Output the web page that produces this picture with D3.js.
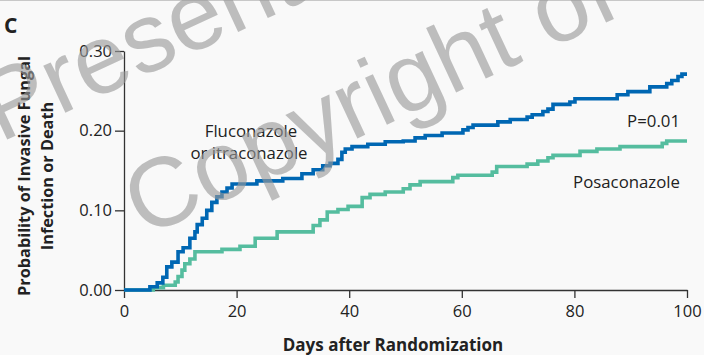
<!DOCTYPE html>
<html>
<head>
<meta charset="utf-8">
<script src="https://cdn.jsdelivr.net/npm/d3@7"></script>
<style>
  html, body { margin: 0; padding: 0; background: #f9f9f9; }
  svg { display: block; }
</style>
</head>
<body>
<svg id="chart" width="704" height="355"></svg>
<script>
// Kaplan-Meier style cumulative incidence, step points (day, probability)
const flucoDays = [0, 4.6, 5.9, 6.9, 7.6, 8.5, 9.6, 10.5, 11.7, 12.6, 13.0, 13.9, 14.7, 15.6, 16.5, 17.4, 18.3, 19.2,
  23.6, 28.2, 31.6, 33.6, 35.3, 36.6, 38.0, 38.7, 39.3, 40.5, 43.3, 46.4, 49.6, 51.7, 53.5, 56.5, 60.2, 61.1, 62.0,
  66.4, 68.6, 71.6, 72.5, 74.4, 75.3, 76.2, 79.2, 80.1, 87.6, 89.5, 93.4, 96.4, 97.3, 98.4, 99.1, 100];
const flucoProb = [0, 0.004, 0.009, 0.016, 0.029, 0.035, 0.048, 0.053, 0.065, 0.073, 0.082, 0.090, 0.100, 0.110, 0.117, 0.123, 0.128, 0.133,
  0.137, 0.140, 0.146, 0.151, 0.156, 0.159, 0.164, 0.173, 0.177, 0.180, 0.183, 0.186, 0.187, 0.191, 0.194, 0.197, 0.201, 0.204, 0.207,
  0.211, 0.214, 0.217, 0.220, 0.224, 0.227, 0.233, 0.236, 0.240, 0.245, 0.249, 0.255, 0.259, 0.263, 0.268, 0.271, 0.271];

const posaDays = [0, 5.2, 7.0, 9.1, 9.6, 10.3, 10.8, 11.7, 12.6, 17.4, 20.6, 23.3, 27.2, 33.6, 34.8, 36.1, 38.0, 39.8,
  42.3, 43.7, 46.4, 49.6, 50.8, 52.6, 58.4, 59.3, 65.4, 66.2, 71.6, 73.5, 75.3, 76.2, 81.0, 84.0, 88.1, 95.6, 96.4, 100];
const posaProb = [0, 0.003, 0.006, 0.010, 0.017, 0.025, 0.033, 0.039, 0.048, 0.051, 0.055, 0.065, 0.073, 0.081, 0.088, 0.098, 0.101, 0.105,
  0.116, 0.120, 0.123, 0.127, 0.132, 0.136, 0.141, 0.144, 0.148, 0.155, 0.158, 0.162, 0.166, 0.169, 0.174, 0.177, 0.180, 0.184, 0.187, 0.187];

const xTicks = [0, 20, 40, 60, 80, 100];
const yTicks = [0, 0.10, 0.20, 0.30];

const svg = d3.select("#chart");
const W = 704, H = 355;
const FONT = "'Open Sans', Lato, sans-serif";

svg.append("rect").attr("width", W).attr("height", H).attr("fill", "#f9f9f9");
svg.append("line").attr("x1", 0).attr("x2", W).attr("y1", 0.5).attr("y2", 0.5)
  .attr("stroke", "#c8c8c8").attr("stroke-width", 1);

const x = d3.scaleLinear().domain([0, 100]).range([124, 687]);
const y = d3.scaleLinear().domain([0, 0.30]).range([290, 51]);

// Axes
const xAxis = svg.append("g").attr("transform", `translate(0,${y(0)})`)
  .call(d3.axisBottom(x).tickValues(xTicks).tickFormat(d3.format("d")).tickSize(8).tickPadding(7).tickSizeOuter(0));
const yAxis = svg.append("g").attr("transform", `translate(${x(0)},0)`)
  .call(d3.axisLeft(y).tickValues(yTicks).tickFormat(d3.format(".2f")).tickSize(9).tickPadding(3).tickSizeOuter(0));

[xAxis, yAxis].forEach(g => {
  g.select(".domain").attr("stroke", "#333").attr("stroke-width", 1.3);
  g.selectAll(".tick line").attr("stroke", "#333").attr("stroke-width", 1.3);
  g.selectAll(".tick text").attr("fill", "#222").attr("font-family", FONT).attr("font-size", 16.5);
});

// Curves
const line = d3.line().curve(d3.curveStepAfter).x(d => x(d[0])).y(d => y(d[1]));
const fluco = flucoDays.map((d, i) => [d, flucoProb[i]]);
const posa = posaDays.map((d, i) => [d, posaProb[i]]);

svg.append("path").datum(posa).attr("d", line).attr("fill", "none")
  .attr("stroke", "#55bd9f").attr("stroke-width", 3.6);
svg.append("path").datum(fluco).attr("d", line).attr("fill", "none")
  .attr("stroke", "#0067b3").attr("stroke-width", 3.6);

// Labels
svg.append("text").attr("x", 4).attr("y", 33).text("C")
  .attr("font-family", FONT).attr("font-weight", "bold").attr("font-size", 21).attr("fill", "#222");

const yTitle = svg.append("text").attr("transform", "translate(0,176) rotate(-90)")
  .attr("text-anchor", "middle").attr("font-family", FONT).attr("font-weight", "bold")
  .attr("font-size", 16.3).attr("fill", "#222");
yTitle.append("tspan").attr("x", 0).attr("y", 30).text("Probability of Invasive Fungal");
yTitle.append("tspan").attr("x", 0).attr("y", 53).text("Infection or Death");

svg.append("text").attr("x", 393).attr("y", 351).attr("text-anchor", "middle")
  .attr("font-family", FONT).attr("font-weight", "bold").attr("font-size", 17).attr("fill", "#222")
  .text("Days after Randomization");

const lab = svg.append("text").attr("text-anchor", "middle").attr("font-family", FONT)
  .attr("font-size", 16.8).attr("fill", "#222");
lab.append("tspan").attr("x", 251).attr("y", 137).text("Fluconazole");
lab.append("tspan").attr("x", 249).attr("y", 159).text("or itraconazole");

svg.append("text").attr("x", 680).attr("y", 127).attr("text-anchor", "end")
  .attr("font-family", FONT).attr("font-size", 16.8).attr("fill", "#222").text("P=0.01");
svg.append("text").attr("x", 680).attr("y", 188).attr("text-anchor", "end")
  .attr("font-family", FONT).attr("font-size", 16.8).attr("fill", "#222").text("Posaconazole");

// Watermark overlay
const wm = svg.append("g").attr("fill", "#9a9a9a").attr("opacity", 0.62)
  .attr("font-family", "'Liberation Sans', Arial, sans-serif").attr("font-size", 98);
wm.append("text").attr("transform", "translate(0,143) rotate(-25)").text("Presentation");
wm.append("text").attr("transform", "translate(144,238) rotate(-25)").text("Copyright of the author");
</script>
</body>
</html>
